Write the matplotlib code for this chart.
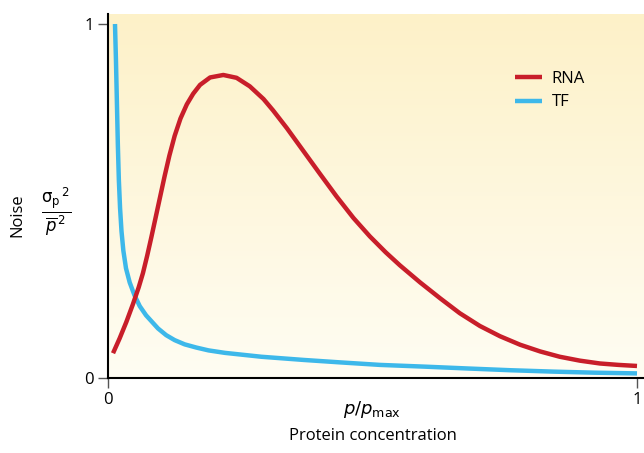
import numpy as np
import matplotlib
matplotlib.use("Agg")
import matplotlib.pyplot as plt
from matplotlib.colors import LinearSegmentedColormap

plt.rcParams['font.family'] = ['Open Sans', 'DejaVu Sans']
plt.rcParams['mathtext.fontset'] = 'dejavusans'

# values (x = p/pmax, y = noise)
rna_x = [0.0095, 0.022, 0.0346, 0.047, 0.058, 0.066, 0.074, 0.082, 0.090, 0.099,
         0.107, 0.116, 0.126, 0.137, 0.149, 0.161, 0.174, 0.193, 0.218, 0.243,
         0.268, 0.294, 0.312, 0.338, 0.369, 0.401, 0.432, 0.464, 0.495, 0.525,
         0.552, 0.590, 0.628, 0.665, 0.703, 0.741, 0.779, 0.817, 0.854, 0.892,
         0.930, 0.965, 1.0]
rna_y = [0.070, 0.112, 0.158, 0.208, 0.256, 0.296, 0.345, 0.398, 0.453, 0.515,
         0.570, 0.628, 0.684, 0.733, 0.773, 0.803, 0.828, 0.849, 0.856, 0.848,
         0.824, 0.788, 0.756, 0.706, 0.642, 0.576, 0.513, 0.452, 0.400, 0.355,
         0.318, 0.270, 0.225, 0.183, 0.147, 0.118, 0.094, 0.075, 0.060, 0.049,
         0.041, 0.037, 0.034]
tf_x = [0.0132, 0.0150, 0.0168, 0.0186, 0.0205, 0.0228, 0.0255, 0.029, 0.034,
        0.041, 0.050, 0.060, 0.072, 0.0945, 0.110, 0.126, 0.145, 0.167, 0.190,
        0.221, 0.290, 0.370, 0.440, 0.514, 0.600, 0.678, 0.760, 0.842, 0.920, 1.0]
tf_y = [1.0, 0.90, 0.78, 0.66, 0.56, 0.48, 0.415, 0.36, 0.31,
        0.27, 0.234, 0.203, 0.177, 0.140, 0.121, 0.107, 0.095, 0.086, 0.078,
        0.071, 0.060, 0.051, 0.044, 0.037, 0.032, 0.027, 0.022, 0.018, 0.015, 0.013]

series_names = ['RNA', 'TF']
series_colors = ['#c81e2a', '#3db8ea']

fig = plt.figure(figsize=(6.44, 4.53), dpi=100)
ax = fig.add_axes([108 / 644, 1 - 378 / 453, 1 - 108 / 644, (378 - 14) / 453])

# pale yellow-to-white gradient background
cmap = LinearSegmentedColormap.from_list('bg', ['#fffdf3', '#fdf1c8'])
grad = np.linspace(0, 1, 256).reshape(-1, 1)
ax.imshow(grad, extent=[0, 1, 0, 1], transform=ax.transAxes, cmap=cmap,
          origin='lower', aspect='auto', zorder=0)

ax.plot(rna_x, rna_y, color=series_colors[0], lw=3.2, label=series_names[0],
        solid_capstyle='butt', solid_joinstyle='round', zorder=3)
ax.plot(tf_x, tf_y, color=series_colors[1], lw=3.2, label=series_names[1],
        solid_capstyle='butt', solid_joinstyle='round', zorder=2)

ax.set_xlim(0, 536 / 529)
ax.set_ylim(0, 364 / 354)

for s in ['top', 'right']:
    ax.spines[s].set_visible(False)
for s in ['left', 'bottom']:
    ax.spines[s].set_linewidth(1.5)
    ax.spines[s].set_zorder(5)

ax.set_xticks([0, 1])
ax.set_xticklabels(['0', '1'])
ax.set_yticks([0, 1])
ax.set_yticklabels(['0', '1'])
ax.tick_params(direction='out', length=7, width=1.0, color='#555555',
               labelsize=12, pad=3)

xmid = 0.5 / (536 / 529)
ax.text(xmid, -0.087, r'$p/p_{\mathrm{max}}$', transform=ax.transAxes,
        ha='center', va='center', fontsize=13)
ax.text(xmid, -0.16, 'Protein concentration', transform=ax.transAxes,
        ha='center', va='center', fontsize=12)
fig.text(17 / 644, 1 - 215 / 453, 'Noise', rotation=90, ha='center', va='center',
         fontsize=12)
fig.text(56 / 644, 1 - 212 / 453,
         r'$\frac{\mathrm{\sigma_p}^{\,2}}{\overline{p}^{\,2}}$',
         ha='center', va='center', fontsize=17)

ax.legend(loc='upper left', bbox_to_anchor=((500 - 108) / 536, 1 - 42 / 364),
          frameon=False, fontsize=12, handlelength=1.6, handletextpad=0.6,
          labelspacing=0.45)

fig.savefig('out.png', dpi=100)
